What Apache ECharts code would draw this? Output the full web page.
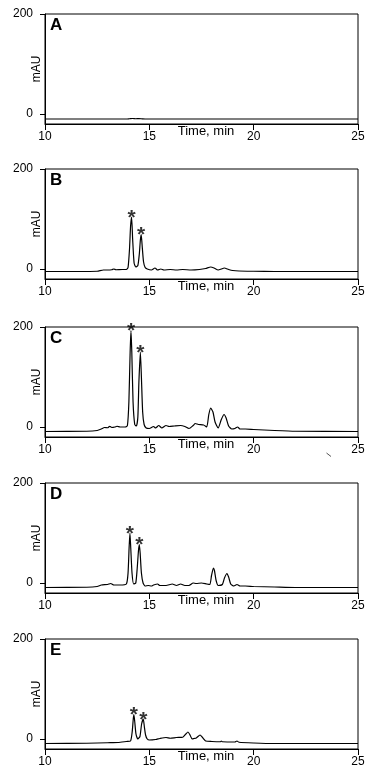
<!DOCTYPE html>
<html><head><meta charset="utf-8">
<script src="https://cdn.jsdelivr.net/npm/echarts@6/dist/echarts.min.js"></script>
<style>html,body{margin:0;padding:0;background:#fff}#c{width:384px;height:784px}</style>
</head><body><div id="c"></div>
<script>
// ---------- data ----------
const panelLabels = ['A', 'B', 'C', 'D', 'E'];
const xMin = 10, xMax = 25, xStep = 5;
const yMin = -20, yMax = 200;
const yTickValues = [0, 200];
const xAxisName = 'Time, min';
const yAxisName = 'mAU';

const timeA = [10, 13.9, 14.05, 14.2, 14.35, 14.5, 14.65, 14.8, 25];
const valA  = [-10, -10, -9.5, -9, -9.5, -9.2, -9.6, -10, -10];

const timeB = [10, 11.5, 12.5, 12.8, 13.0, 13.2, 13.3, 13.4, 13.7, 13.9, 13.98, 14.05, 14.1, 14.15, 14.2, 14.27, 14.35, 14.45, 14.52, 14.57, 14.61, 14.65, 14.72, 14.8, 14.9, 15.1, 15.27, 15.4, 15.55, 15.7, 16.0, 16.3, 16.6, 17.0, 17.4, 17.7, 17.94, 18.1, 18.3, 18.45, 18.59, 18.8, 19.0, 19.3, 20, 21, 25];
const valB  = [-5, -5, -4.5, -2, -2, -1.5, 0, -1.5, -1, -1, 3, 40, 85, 104, 60, 12, 4, 7, 30, 58, 69, 50, 15, 3, 0, -2, 2, -2, 0, -2, -1, -2, -1, -2, -1, 1, 4, 2, -2, 0, 2, -1, -3, -4, -4.5, -5, -5];

const timeC = [10, 12, 12.5, 12.7, 12.85, 13.0, 13.1, 13.2, 13.35, 13.45, 13.6, 13.85, 13.95, 14.02, 14.08, 14.12, 14.16, 14.22, 14.3, 14.38, 14.45, 14.5, 14.57, 14.62, 14.68, 14.75, 14.85, 15.0, 15.2, 15.3, 15.45, 15.6, 15.8, 15.95, 16.2, 16.5, 16.7, 16.9, 17.1, 17.2, 17.35, 17.6, 17.75, 17.85, 17.94, 18.05, 18.15, 18.3, 18.45, 18.58, 18.68, 18.8, 18.95, 19.1, 19.23, 19.35, 19.6, 20, 21, 22, 25];
const valC  = [-9, -8.5, -7, -4, -1, -1.5, 1.5, -1, 0, 1.5, 0, 0, 3, 50, 150, 193, 150, 50, 5, 2, 20, 90, 150, 100, 30, 5, -2, -3, 1, -2, 3, -2, 3, 1, 2, 3, 1, -3, 3, 7, 5, 4, 0, 25, 38, 30, 10, -2, 15, 25, 18, 2, -4, -3, 0, -4, -4, -5, -7, -8.5, -9];

const timeD = [10, 12, 12.5, 12.7, 13.0, 13.15, 13.3, 13.6, 13.9, 13.98, 14.03, 14.07, 14.11, 14.17, 14.25, 14.35, 14.42, 14.48, 14.52, 14.56, 14.62, 14.7, 14.8, 14.95, 15.1, 15.2, 15.4, 15.5, 15.8, 16.1, 16.3, 16.5, 16.7, 16.9, 17.1, 17.25, 17.5, 17.75, 17.9, 17.98, 18.07, 18.12, 18.2, 18.3, 18.5, 18.6, 18.72, 18.8, 18.9, 19.05, 19.2, 19.35, 19.6, 20, 21, 22, 25];
const valD  = [-9, -8.5, -7, -4, -3, -1, -4, -4, -2, 20, 70, 100, 70, 20, -2, 0, 30, 65, 77, 60, 20, 0, -6, -5, -6, -4, -2, -5, -5, -2, -5, -2, -5, -5, 0, -1, 0, -2, -3, 15, 30, 25, 5, -5, -3, 10, 19, 12, -2, -6, -3, -6, -6, -7, -8, -9, -9];

const timeE = [10, 12, 13, 13.5, 13.9, 14.1, 14.18, 14.23, 14.26, 14.3, 14.36, 14.45, 14.55, 14.63, 14.71, 14.76, 14.82, 14.9, 15.0, 15.3, 15.5, 15.8, 16.0, 16.3, 16.6, 16.75, 16.85, 16.95, 17.05, 17.15, 17.25, 17.43, 17.55, 17.7, 18.0, 18.4, 18.45, 18.5, 19.1, 19.2, 19.3, 20, 21, 25];
const valE  = [-9, -8.5, -7.5, -7, -5, -4, 15, 40, 49, 35, 10, 0, 5, 30, 40, 25, 8, 0, -2, -1, 1, 3, 1.5, 3, 3.5, 10, 14, 8, 0, 1, 2, 8, 3, -4, -5, -5.5, -4, -5.5, -6, -4, -6.5, -8, -9, -9];

const starTimes  = [[], [14.15, 14.61], [14.12, 14.57], [14.07, 14.52], [14.26, 14.71]];
const starValues = [[], [104, 69], [193, 150], [100, 77], [49, 40]];

const times  = [timeA, timeB, timeC, timeD, timeE];
const values = [valA, valB, valC, valD, valE];

// ---------- layout ----------
const gridTops = [14, 169, 327, 483, 639];
const gridH = 110, gridL = 45, gridR = 26;
const font = 'Liberation Sans, Arial, sans-serif';

const chart = echarts.init(document.getElementById('c'), null, {renderer: 'canvas'});
const grids = [], xAxes = [], yAxes = [], series = [], graphics = [];
for (let i = 0; i < 5; i++) {
  grids.push({left: gridL, right: gridR, top: gridTops[i], height: gridH, show: true,
    containLabel: false, outerBoundsMode: 'none',
    borderColor: '#000', borderWidth: 1, backgroundColor: 'transparent'});
  xAxes.push({type: 'value', gridIndex: i, min: xMin, max: xMax, interval: xStep,
    axisLine: {show: true, onZero: false, lineStyle: {color: '#000', width: 1}},
    axisTick: {show: true, length: 6, lineStyle: {color: '#000'}},
    axisLabel: {color: '#000', fontSize: 12, fontFamily: font, margin: 7},
    splitLine: {show: false},
    name: xAxisName, nameLocation: 'middle', nameGap: 1, nameMoveOverlap: false,
    nameTextStyle: {color: '#000', fontSize: 13, fontFamily: font, padding: [0, 0, 0, 9]}});
  yAxes.push({type: 'value', gridIndex: i, min: yMin, max: yMax, interval: 20,
    axisLine: {show: true, onZero: false, lineStyle: {color: '#000', width: 1}},
    axisTick: {show: true, length: 5, customValues: yTickValues, lineStyle: {color: '#000'}},
    axisLabel: {color: '#000', fontSize: 12, fontFamily: font, margin: 12, customValues: yTickValues},
    splitLine: {show: false},
    name: yAxisName, nameLocation: 'middle', nameGap: 2, nameRotate: 90, nameMoveOverlap: false,
    nameTextStyle: {color: '#000', fontSize: 12, fontFamily: font}});
  series.push({type: 'line', xAxisIndex: i, yAxisIndex: i, showSymbol: false, symbol: 'none',
    smooth: 0.2, lineStyle: {color: '#000', width: 1.2},
    data: times[i].map((t, k) => [t, values[i][k]]), animation: false, silent: true});
  series.push({type: 'scatter', xAxisIndex: i, yAxisIndex: i, symbolSize: 1,
    itemStyle: {color: 'rgba(0,0,0,0)'},
    label: {show: true, position: 'inside', formatter: '*', color: '#000', fontSize: 21,
      fontWeight: 'bold', fontFamily: font, offset: [0, 1]},
    data: starTimes[i].map((t, k) => [t, starValues[i][k]]), animation: false, silent: true, z: 5});
  graphics.push({type: 'text', left: 50, top: gridTops[i] + 3,
    style: {text: panelLabels[i], font: 'bold 17px ' + font, fill: '#000'}});
}
// small stray stroke in panel C
graphics.push({type: 'line', shape: {x1: 326.5, y1: 453, x2: 331, y2: 456.5},
  style: {stroke: '#555', lineWidth: 1}});

chart.setOption({animation: false, backgroundColor: '#fff', grid: grids, xAxis: xAxes,
  yAxis: yAxes, series: series, graphic: graphics});
</script></body></html>
